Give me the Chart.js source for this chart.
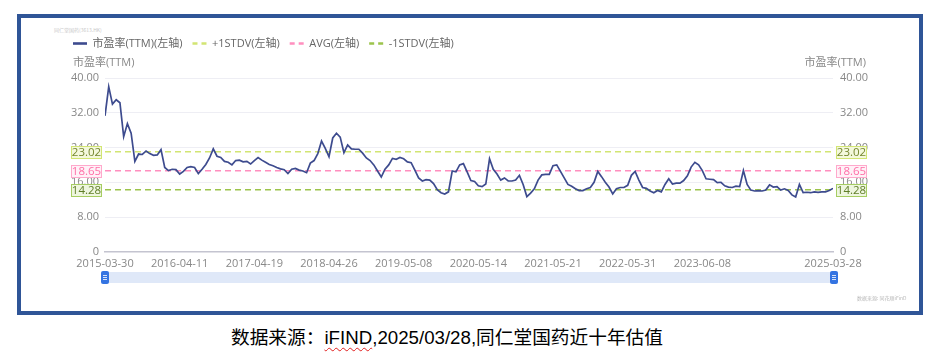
<!DOCTYPE html>
<html>
<head>
<meta charset="utf-8">
<script src="https://cdn.jsdelivr.net/npm/chart.js@4/dist/chart.umd.min.js"></script>
<style>
html,body{margin:0;padding:0;background:#fff;width:943px;height:357px;overflow:hidden;}
#frame{position:absolute;left:17px;top:14px;width:898px;height:293px;border:4px solid #2f5597;background:#fff;box-sizing:content-box;}
#wrap{position:absolute;left:0;top:0;width:943px;height:300px;}
#wm1{position:absolute;left:54px;top:26px;font:5px "Noto Sans CJK SC",sans-serif;color:#c8c8c8;white-space:nowrap;}
#wm2{position:absolute;left:857px;top:294px;font:5px "Noto Sans CJK SC",sans-serif;color:#b8b8b8;white-space:nowrap;}
#caption{position:absolute;left:231px;top:326px;font-size:18.7px;font-family:"Liberation Sans","Noto Sans CJK SC",sans-serif;color:#000;white-space:nowrap;line-height:24px;}
#caption .sp{text-decoration:underline wavy #e02020;text-decoration-thickness:1px;text-underline-offset:3px;}
</style>
</head>
<body>
<div id="frame"></div>
<div id="wm1">同仁堂国药(3613.HK)</div>
<div id="wrap"><canvas id="c" width="943" height="300"></canvas></div>
<div id="wm2">数据来源: 同花顺iFinD</div>
<div id="caption">数据来源：<span class="sp">iFIND</span>,2025/03/28,同仁堂国药近十年估值</div>
<script>
// ---- data ----
const tickLabels = ['2015-03-30','2016-04-11','2017-04-19','2018-04-26','2019-05-08','2020-05-14','2021-05-21','2022-05-31','2023-06-08','2025-03-28'];
const tickIndex = [0,20,40,60,80,100,120,140,160,195];
const peValues = [
31.3, 38.0, 34.0, 35.0, 34.3, 26.5, 29.5, 27.3, 20.8, 22.5,
22.4, 23.2, 22.6, 22.2, 22.3, 23.5, 19.4, 18.7, 19.0, 18.9,
17.9, 18.5, 19.4, 19.6, 19.4, 18.0, 19.0, 20.1, 21.6, 23.7,
22.0, 21.7, 20.8, 20.6, 20.0, 21.0, 21.1, 20.7, 20.8, 20.2,
21.0, 21.7, 21.1, 20.6, 20.1, 19.8, 19.4, 19.1, 18.9, 18.0,
19.0, 19.2, 18.8, 18.6, 18.2, 20.4, 21.0, 22.6, 25.5, 23.8,
21.9, 26.2, 27.3, 26.4, 22.8, 24.6, 23.7, 23.6, 23.6, 22.7,
21.6, 21.0, 20.0, 18.6, 17.2, 19.0, 20.0, 21.5, 21.3, 21.7,
21.4, 20.7, 20.5, 18.8, 17.0, 16.3, 16.6, 16.5, 15.7, 14.3,
13.6, 13.3, 13.8, 18.6, 18.4, 20.0, 20.3, 18.4, 16.4, 16.2,
15.2, 15.0, 15.6, 21.4, 19.0, 17.9, 16.5, 17.0, 16.3, 16.3,
16.5, 17.6, 15.5, 12.7, 13.5, 14.5, 16.5, 17.7, 17.8, 17.8,
19.8, 20.0, 18.5, 17.0, 15.5, 15.1, 14.5, 14.1, 14.1, 14.5,
14.8, 16.0, 18.5, 17.3, 16.0, 14.9, 13.3, 14.5, 14.8, 14.8,
15.3, 17.6, 18.5, 16.5, 14.8, 14.6, 14.0, 13.6, 14.1, 13.8,
15.5, 16.8, 15.6, 15.8, 15.8, 16.4, 17.5, 19.5, 20.6, 20.0,
18.7, 16.8, 16.7, 16.6, 15.9, 16.0, 15.2, 14.9, 14.8, 15.1,
15.0, 18.7, 15.5, 14.2, 14.0, 14.1, 14.0, 14.2, 15.4, 14.9,
15.0, 14.2, 14.5, 14.1, 13.1, 12.6, 15.5, 13.6, 13.7, 13.6,
13.8, 13.7, 13.8, 13.8, 14.1, 14.6
];
const plus1Std = 23.02;
const avgPE = 18.65;
const minus1Std = 14.28;
const seriesNames = ['市盈率(TTM)(左轴)', '+1STDV(左轴)', 'AVG(左轴)', '-1STDV(左轴)'];
const yTitle = '市盈率(TTM)';
const yTicks = [0, 8, 16, 24, 32, 40];

// ---- styles ----
const FONT = '"Open Sans","Noto Sans CJK SC",sans-serif';
const lineColor = '#3d4b8e';
const plusColor = '#d2e573';
const avgColor = '#ff8fbf';
const minusColor = '#9cc44c';
const refStyles = [
  {value: plus1Std, fill:'#f4f9dc', border:'#d2e573', text:'#75862f'},
  {value: avgPE, fill:'#fff1f7', border:'#ffa9cc', text:'#ff6ea7'},
  {value: minus1Std, fill:'#eef6df', border:'#a6cd62', text:'#5f7d27'}
];
const lastIdx = peValues.length - 1;

const legendSpacer = {
  id: 'legendSpacer',
  beforeLayout(chart) {
    const lg = chart.legend;
    if (lg && !lg._spaced) {
      const orig = lg.fit;
      lg.fit = function() { orig.call(this); this.height += 19; };
      lg._spaced = true;
    }
  }
};

const decor = {
  id: 'decor',
  afterDraw(chart) {
    const {ctx, chartArea, scales} = chart;
    const y = scales.y, x = scales.x;
    ctx.save();
    // axis titles
    ctx.font = '11px ' + FONT;
    ctx.fillStyle = '#888';
    ctx.textBaseline = 'middle';
    ctx.textAlign = 'left';
    ctx.fillText(yTitle, 73, 63);
    ctx.textAlign = 'right';
    ctx.fillText(yTitle, 866, 63);
    // value boxes
    ctx.textAlign = 'center';
    refStyles.forEach(r => {
      const py = Math.round(y.getPixelForValue(r.value)) + 0.5;
      [chartArea.left - 34, chartArea.right + 3].forEach(bx => {
        ctx.fillStyle = r.fill;
        ctx.fillRect(bx, py - 6, 31, 12);
        ctx.strokeStyle = r.border;
        ctx.lineWidth = 1;
        ctx.strokeRect(bx + 0.5, py - 6, 30, 12);
        ctx.fillStyle = r.text;
        ctx.font = '11.5px ' + FONT;
        ctx.fillText(r.value.toFixed(2), bx + 15.5, py + 0.5);
      });
    });
    // data zoom slider
    const sx0 = x.getPixelForValue(0) - 1, sx1 = x.getPixelForValue(lastIdx) + 5;
    const sy = 272, sh = 11;
    ctx.fillStyle = '#dfe8f8';
    ctx.fillRect(sx0, sy, sx1 - sx0, sh);
    [sx0 - 3, sx1 - 8].forEach(hx => {
      ctx.fillStyle = '#3474e2';
      ctx.beginPath();
      if (ctx.roundRect) ctx.roundRect(hx, sy - 1, 8, sh + 2, 2); else ctx.rect(hx, sy - 1, 8, sh + 2);
      ctx.fill();
      ctx.strokeStyle = 'rgba(255,255,255,0.8)';
      ctx.lineWidth = 1;
      for (let k = 0; k < 3; k++) {
        ctx.beginPath();
        ctx.moveTo(hx + 2, sy + 3.5 + k * 2);
        ctx.lineTo(hx + 6, sy + 3.5 + k * 2);
        ctx.stroke();
      }
    });
    ctx.restore();
  }
};

const yTickFmt = v => v === 0 ? '0' : v.toFixed(2);

new Chart(document.getElementById('c'), {
  type: 'line',
  data: {
    datasets: [
      {label: seriesNames[0], data: peValues.map((v, i) => ({x: i, y: v})), borderColor: lineColor, backgroundColor: lineColor, borderWidth: 1.7, pointRadius: 0, tension: 0, yAxisID: 'y', order: 1},
      {label: seriesNames[1], data: [{x: 0, y: plus1Std}, {x: lastIdx, y: plus1Std}], borderColor: plusColor, backgroundColor: plusColor, borderWidth: 1.6, borderDash: [6, 4], pointRadius: 0, yAxisID: 'y', order: 2},
      {label: seriesNames[2], data: [{x: 0, y: avgPE}, {x: lastIdx, y: avgPE}], borderColor: avgColor, backgroundColor: avgColor, borderWidth: 1.6, borderDash: [6, 4], pointRadius: 0, yAxisID: 'y', order: 2},
      {label: seriesNames[3], data: [{x: 0, y: minus1Std}, {x: lastIdx, y: minus1Std}], borderColor: minusColor, backgroundColor: minusColor, borderWidth: 1.6, borderDash: [6, 4], pointRadius: 0, yAxisID: 'y', order: 2}
    ]
  },
  options: {
    responsive: false,
    animation: false,
    events: [],
    layout: {padding: {left: 63, right: 65, top: 28, bottom: 25}},
    plugins: {
      tooltip: {enabled: false},
      legend: {
        display: true,
        position: 'top',
        align: 'start',
        labels: {
          usePointStyle: true,
          pointStyle: 'line',
          pointStyleWidth: 14,
          padding: 10,
          color: '#666',
          font: {size: 11, family: FONT},
          generateLabels(chart) {
            const items = Chart.defaults.plugins.legend.labels.generateLabels(chart);
            items.forEach((it, i) => {
              it.lineWidth = 2.6;
              it.lineDash = i === 0 ? [] : [5, 4];
              it.fontColor = '#666';
            });
            return items;
          }
        }
      }
    },
    scales: {
      x: {
        type: 'linear',
        min: 0,
        max: lastIdx,
        afterBuildTicks: s => { s.ticks = tickIndex.map(v => ({value: v})); },
        ticks: {autoSkip: false, maxRotation: 0, padding: 5, color: '#888', font: {size: 11, family: FONT},
          callback: v => { const k = tickIndex.indexOf(v); return k >= 0 ? tickLabels[k] : ''; }},
        grid: {display: false, drawTicks: false},
        border: {display: true, color: '#c4c4d0', width: 1.5}
      },
      y: {
        position: 'left',
        min: 0, max: 40,
        afterBuildTicks: s => { s.ticks = yTicks.map(v => ({value: v})); },
        ticks: {padding: 6, color: '#888', font: {size: 11, family: FONT}, callback: yTickFmt},
        grid: {color: '#eeeef4', lineWidth: 1, drawTicks: false},
        border: {display: false},
        afterFit: s => { s.width = 42; }
      },
      y2: {
        position: 'right',
        min: 0, max: 40,
        afterBuildTicks: s => { s.ticks = yTicks.map(v => ({value: v})); },
        ticks: {padding: 7, color: '#888', font: {size: 11, family: FONT}, callback: yTickFmt},
        grid: {display: false, drawTicks: false},
        border: {display: false},
        afterFit: s => { s.width = 45; }
      }
    }
  },
  plugins: [legendSpacer, decor]
});
</script>
</body>
</html>
